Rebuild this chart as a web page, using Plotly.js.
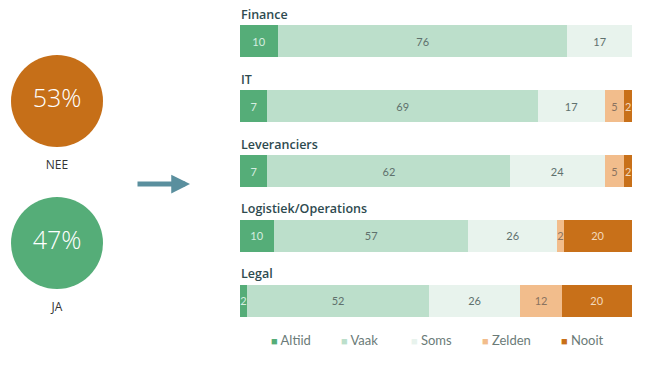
<!DOCTYPE html>
<html><head><meta charset="utf-8">
<script src="https://cdn.plot.ly/plotly-3.0.1.min.js"></script>
<style>html,body{margin:0;padding:0;background:#fff}#chart{width:653px;height:372px}</style>
</head><body><div id="chart"></div>
<script>
const categories = ['Finance','IT','Leveranciers','Logistiek/Operations','Legal'];
const seriesNames = ['Altiid','Vaak','Soms','Zelden','Nooit'];
const altiid = [10,7,7,10,2];
const vaak   = [76,69,62,57,52];
const soms   = [17,17,24,26,26];
const zelden = [null,5,5,2,12];
const nooit  = [null,2,2,20,20];
const circleLabels = ['NEE','JA'];
const circleValues = [53,47];

const colors = ['#55ad78','#bcdfcb','#e8f3ed','#f2bd8c','#c87019'];
const textColors = ['#d6ede0','#5f716d','#5f716d','#8a7360','#f3d9bd'];
const series = [altiid,vaak,soms,zelden,nooit];
const W=653,H=372;
const FONT = 'Lato, "Open Sans", sans-serif';
const legendLeft = [269,339,409,480,559];

const traces = series.map((vals,i)=>({
  type:'bar', orientation:'h', name:seriesNames[i],
  y:categories, x:vals,
  marker:{color:colors[i], line:{width:0}},
  text:vals.map(v=>v==null?'':String(v)),
  textposition:'inside', insidetextanchor:'middle', constraintext:'none',
  textfont:{family:FONT, size:11, color:textColors[i]},
  hoverinfo:'skip', xaxis:'x', yaxis:'y', showlegend:false
}));

traces.push({
  type:'scatter', mode:'markers+text', x:[0,0], y:circleLabels,
  marker:{size:92, color:['#c66f18','#55ad78'], line:{width:0}},
  text:circleLabels, textposition:'bottom center',
  textfont:{family:'"Open Sans", sans-serif', size:12, color:'#333'},
  xaxis:'x2', yaxis:'y2', showlegend:false, hoverinfo:'skip', cliponaxis:false
});
traces.push({
  type:'scatter', mode:'text', x:[0,0], y:circleLabels,
  text:circleValues.map(v=>v+'%'), textposition:'middle center',
  textfont:{family:'"Open Sans", sans-serif', size:25, color:'#ffffff', weight:300},
  xaxis:'x2', yaxis:'y2', showlegend:false, hoverinfo:'skip', cliponaxis:false
});

const annotations = categories.map(c=>({
  xref:'paper', yref:'y', x:239/W, y:c, yshift:27, xanchor:'left', yanchor:'middle',
  text:c, showarrow:false,
  font:{family:'"Open Sans", sans-serif', size:12.5, color:'#2e4a4f', weight:600}
}));
seriesNames.forEach((n,i)=>annotations.push({
  xref:'paper', yref:'paper', x:legendLeft[i]/W, y:1-340/H, xanchor:'left', yanchor:'middle',
  showarrow:false,
  text:'<span style="color:'+colors[i]+';font-size:11px">■</span> '+n,
  font:{family:FONT, size:13, color:'#6b7b78'}
}));
annotations.push({
  xref:'paper', yref:'paper', x:190/W, y:1-184/H, axref:'paper', ayref:'paper',
  ax:136/W, ay:1-184/H, text:'', showarrow:true, arrowhead:2, arrowsize:0.75,
  arrowwidth:5, arrowcolor:'#5a8f9e', standoff:0
});

const layout = {
  width:W, height:H, margin:{l:0,r:0,t:0,b:0},
  paper_bgcolor:'#fff', plot_bgcolor:'#fff',
  barmode:'stack', barnorm:'percent', bargap:0.506,
  xaxis:{domain:[240/W,632/W], visible:false, range:[0,100], fixedrange:true},
  yaxis:{domain:[1-333/H,1-9/H], range:[4.5,-0.5], visible:false, type:'category'},
  xaxis2:{domain:[0,114/W], range:[-1,1], visible:false, anchor:'y2'},
  yaxis2:{domain:[1-314/H,1-30/H], range:[1.5,-0.5], visible:false, type:'category', anchor:'x2'},
  showlegend:false,
  annotations:annotations
};
Plotly.newPlot('chart', traces, layout, {displayModeBar:false, staticPlot:true});
</script></body></html>
